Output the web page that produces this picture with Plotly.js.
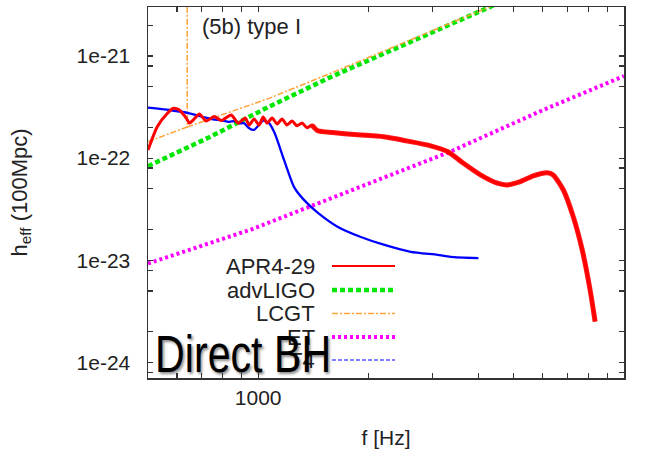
<!DOCTYPE html>
<html>
<head>
<meta charset="utf-8">
<script src="https://cdn.plot.ly/plotly-3.0.1.min.js"></script>
<style>
  html, body { margin: 0; padding: 0; background: #ffffff; }
  #chart { width: 650px; height: 452px; }
</style>
</head>
<body>
<div id="chart"></div>
<script>
// ---- data ----
const apr4Freq = [500, 530, 565, 587, 609, 636, 649, 669, 691, 721, 759, 793, 844, 882, 922, 945, 975, 1006, 1032, 1058, 1092, 1127, 1162, 1199, 1238, 1277, 1318, 1360, 1403, 1457, 1600, 1791, 2204, 2612, 2961, 3294, 3641, 4052, 4508, 4798, 5208, 5649, 6166, 6405, 6823, 7262, 7685, 8078, 8337];
const apr4H = [1.2e-22, 2.03e-22, 2.75e-22, 3.08e-22, 2.96e-22, 2.47e-22, 2.21e-22, 2.42e-22, 2.71e-22, 2.31e-22, 2.55e-22, 2.33e-22, 2.65e-22, 2.2e-22, 2.47e-22, 2.11e-22, 2.42e-22, 2.11e-22, 2.53e-22, 2.2e-22, 2.47e-22, 2.16e-22, 2.42e-22, 2.11e-22, 2.31e-22, 2.07e-22, 2.21e-22, 1.98e-22, 2.11e-22, 1.85e-22, 1.78e-22, 1.71e-22, 1.62e-22, 1.45e-22, 1.32e-22, 1.16e-22, 8.9e-23, 6.85e-23, 5.68e-23, 5.47e-23, 5.89e-23, 6.7e-23, 7.2e-23, 6.85e-23, 4.9e-23, 2.68e-23, 1.27e-23, 5.13e-24, 2.51e-24];

const ligoFreq = [500, 735, 1071, 1326, 1581, 4233, 6000];
const ligoH = [8.35e-23, 1.6e-22, 3.19e-22, 4.65e-22, 6.24e-22, 2.95e-21, 5.0e-21];

const lcgtFreq = [500, 640, 640, 640, 640, 1071, 1581, 4233, 6000];
const lcgtH = [1.45e-22, 2.02e-22, 5e-21, null, 2.02e-22, 3.85e-22, 6.8e-22, 2.95e-21, 5.0e-21];

const etFreq = [500, 957, 3357, 6010, 10000];
const etH = [9.3e-24, 2.0e-23, 1.16e-22, 2.96e-22, 6.37e-22];

const t4Freq = [500, 572, 649, 700, 735, 760, 790, 834, 860, 888, 915, 945, 975, 1032, 1071, 1110, 1177, 1254, 1334, 1457, 1652, 1909, 2204, 2612, 3094, 3357, 4000];
const t4H = [3.12e-22, 2.96e-22, 2.75e-22, 2.55e-22, 2.45e-22, 2.38e-22, 2.36e-22, 2.27e-22, 2.3e-22, 2.19e-22, 2.2e-22, 1.96e-22, 1.89e-22, 2.33e-22, 2.2e-22, 1.75e-22, 9.6e-23, 5.2e-23, 3.9e-23, 2.91e-23, 2.12e-23, 1.69e-23, 1.42e-23, 1.21e-23, 1.13e-23, 1.08e-23, 1.05e-23];

const seriesNames = ["APR4-29", "advLIGO", "LCGT", "ET", "T4"];

const xTickVals = [600, 700, 800, 900, 1000, 2000, 3000, 4000, 5000, 6000, 7000, 8000, 9000, 10000];
const xTickText = ["", "", "", "", "1000", "", "", "", "", "", "", "", "", "10000"];
const yTickVals = [8e-25, 1e-24, 2e-24, 5e-24, 8e-24, 1e-23, 2e-23, 5e-23, 8e-23, 1e-22, 2e-22, 5e-22, 8e-22, 1e-21, 2e-21];
const yTickText = ["", "1e-24", "", "", "", "1e-23", "", "", "", "1e-22", "", "", "", "1e-21", ""];

// ---- styles ----
const FONT = "Liberation Sans, Arial, sans-serif";
const TXT = "#222222";
const AXC = "#333333";
const cRed = "#ff0000", cGreen = "#00e600", cOrange = "#ffa33a", cMag = "#ff00ff", cBlue = "#0000ff";

const bandStart = apr4Freq.indexOf(1403);

const traces = [
  { x: etFreq, y: etH, mode: "lines", name: seriesNames[3], showlegend: false,
    line: { color: cMag, width: 4, dash: "3px,3px" } },
  { x: ligoFreq, y: ligoH, mode: "lines", name: seriesNames[1], showlegend: false,
    line: { color: cGreen, width: 4.5, dash: "5px,3px" } },
  { x: lcgtFreq, y: lcgtH, mode: "lines", name: seriesNames[2], showlegend: false, connectgaps: false,
    line: { color: cOrange, width: 1.5, dash: "6px,2px,2px,2px" } },
  { x: t4Freq, y: t4H, mode: "lines", name: seriesNames[4], showlegend: false,
    line: { color: cBlue, width: 2.3, shape: "spline", smoothing: 0.6 } },
  { x: apr4Freq, y: apr4H, mode: "lines", name: seriesNames[0], showlegend: false,
    line: { color: cRed, width: 3, shape: "spline", smoothing: 0.6 } },
  { x: apr4Freq.slice(bandStart), y: apr4H.slice(bandStart), mode: "lines", name: seriesNames[0] + " band",
    showlegend: false, hoverinfo: "skip", opacity: 0.9,
    line: { color: cRed, width: 5, shape: "spline", smoothing: 0.6 } }
];

// manual legend (text on the left, sample on the right, as in the reference)
const L = 148, R = 624, T = 7, B = 378;
const px = v => (v - L) / (R - L);
const py = v => (B - v) / (B - T);
const legendRows = [
  { name: seriesNames[0], color: cRed, dash: "solid", width: 2, y: 266 },
  { name: seriesNames[1], color: cGreen, dash: "5px,3px", width: 4.5, y: 290 },
  { name: seriesNames[2], color: cOrange, dash: "6px,2px,2px,2px", width: 1.5, y: 313.5 },
  { name: seriesNames[3], color: cMag, dash: "3px,3px", width: 4, y: 337 },
  { name: seriesNames[4], color: cBlue, dash: "4px,2px", width: 1.2, y: 360 }
];

const annotations = legendRows.map(r => ({
  xref: "paper", yref: "paper", x: px(317), y: py(r.y), xanchor: "right", yanchor: "middle",
  text: r.name, showarrow: false, font: { family: FONT, size: 22, color: TXT }
}));
annotations.push({
  xref: "paper", yref: "paper", x: px(200), y: py(26), xanchor: "left", yanchor: "middle",
  text: "(5b) type I", showarrow: false, font: { family: FONT, size: 22, color: TXT }
});
annotations.push({
  xref: "paper", yref: "paper", x: px(242.5), y: py(354), xanchor: "center", yanchor: "middle",
  text: "Direct BH", showarrow: false,
  font: { family: FONT, size: 51, color: "#000000", shadow: "2px 2px 3px rgba(0,0,0,0.45)" }
});

const shapes = legendRows.map(r => ({
  type: "line", xref: "paper", yref: "paper", x0: px(332), x1: px(395), y0: py(r.y), y1: py(r.y),
  line: { color: r.color, width: r.width, dash: r.dash }
}));

const axisCommon = {
  type: "log", showgrid: false, zeroline: false, showline: true, linecolor: AXC, linewidth: 1.5,
  mirror: "ticks", ticks: "inside", ticklen: 5, tickwidth: 1.2, tickcolor: AXC,
  tickmode: "array", tickfont: { family: FONT, size: 21, color: TXT }
};

const layout = {
  width: 650, height: 452,
  margin: { l: L, r: 650 - R, t: T, b: 452 - B, pad: 0 },
  paper_bgcolor: "#ffffff", plot_bgcolor: "#ffffff",
  showlegend: false,
  xaxis: Object.assign({}, axisCommon, {
    range: [Math.log10(500), 4], tickvals: xTickVals, ticktext: xTickText, ticklabelstandoff: 0,
    title: { text: "f [Hz]", font: { family: FONT, size: 21, color: TXT }, standoff: 22 }
  }),
  yaxis: Object.assign({}, axisCommon, {
    range: [-24.153, -20.52], tickvals: yTickVals, ticktext: yTickText, ticklabelstandoff: 12,
    title: { text: "h<sub>eff</sub> (100Mpc)", font: { family: FONT, size: 22, color: TXT }, standoff: 43 }
  }),
  annotations: annotations,
  shapes: shapes
};

Plotly.newPlot("chart", traces, layout, { displayModeBar: false, staticPlot: true }).then(() => {
  // the reference's "Direct BH" caption is set in a condensed face: compress it to its width
  document.querySelectorAll("#chart .annotation-text").forEach(el => {
    if (el.textContent === "Direct BH") {
      el.setAttribute("textLength", "176");
      el.setAttribute("lengthAdjust", "spacingAndGlyphs");
    }
  });
});
</script>
</body>
</html>
